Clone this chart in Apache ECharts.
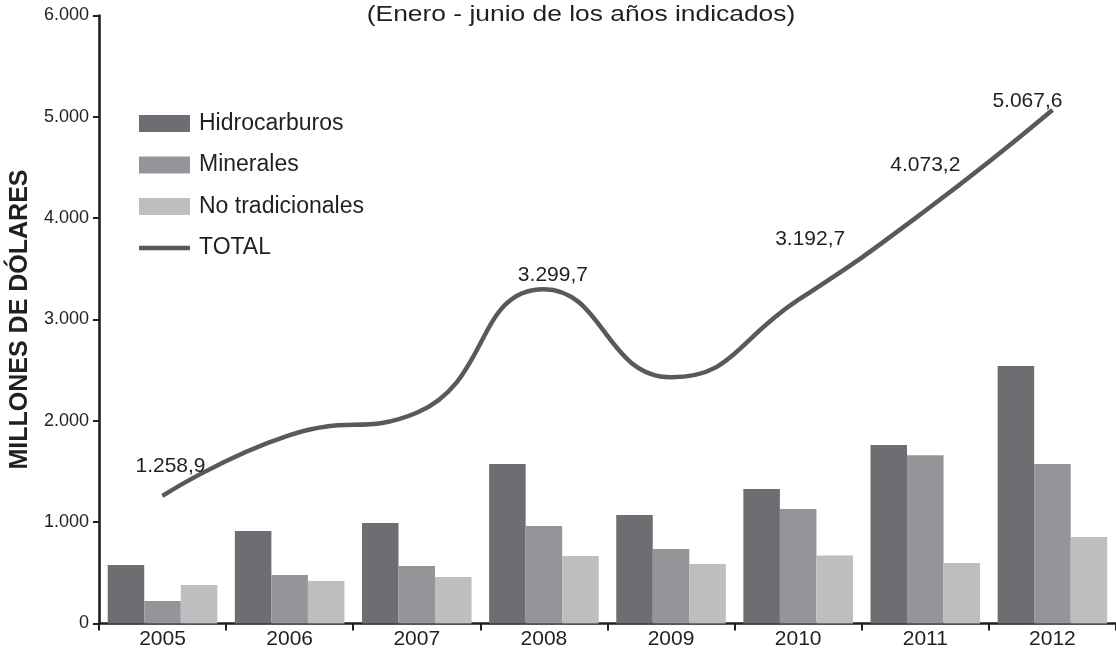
<!DOCTYPE html>
<html>
<head>
<meta charset="utf-8">
<script src="https://cdn.jsdelivr.net/npm/echarts@6/dist/echarts.min.js"></script>
<style>
  html, body { margin: 0; padding: 0; background: #ffffff; }
  #chart { width: 1116px; height: 654px; }
</style>
</head>
<body>
<div id="chart"></div>
<script>
// Exportaciones por grupo de productos, enero - junio (millones de dólares)
const categories = ['2005', '2006', '2007', '2008', '2009', '2010', '2011', '2012'];
const hidrocarburos = [577, 913, 992, 1574, 1071, 1327, 1762, 2541];
const minerales = [222, 479, 567, 962, 735, 1130, 1660, 1574];
const noTradicionales = [380, 419, 459, 666, 587, 672, 597, 854];
const total = [1258.9, 1860, 2080, 3299.7, 2430, 3192.7, 4073.2, 5067.6];
// Years whose total is written next to the line
const totalLabelled = [true, false, false, true, false, true, true, true];

const yMin = 0;
const yMax = 6000;
const yStep = 1000;

const TEXT = '#231f20';
const FONT = '"Liberation Sans", Arial, Helvetica, sans-serif';
const COLORS = { hidro: '#6d6e71', min: '#939598', noTrad: '#bcbec0', total: '#58595b' };

// Where each total label sits relative to its point
const totalLabelOffsets = { 0: [8, -14], 3: [9, 2], 5: [12, -45], 6: [0, -30], 7: [-25, 7] };

// Spanish number style: 1.258,9 / 6.000
function fmt(v, decimals) {
  const parts = v.toFixed(decimals).split('.');
  const intPart = parts[0].replace(/\B(?=(\d{3})+(?!\d))/g, '.');
  return parts.length > 1 ? intPart + ',' + parts[1] : intPart;
}

const totalData = total.map((v, i) => ({
  value: v,
  label: {
    show: totalLabelled[i],
    offset: totalLabelOffsets[i] || [0, 0]
  }
}));

const chart = echarts.init(document.getElementById('chart'), null, { renderer: 'canvas' });

chart.setOption({
  animation: false,
  backgroundColor: '#ffffff',
  textStyle: { fontFamily: FONT, color: TEXT },
  graphic: [{
    type: 'text',
    x: 581,
    y: 4,
    scaleX: 1.2,
    style: {
      text: '(Enero - junio de los años indicados)',
      font: '22px ' + FONT,
      fill: TEXT,
      align: 'center',
      verticalAlign: 'top'
    }
  }],
  legend: {
    orient: 'vertical',
    left: 134,
    top: 107,
    itemWidth: 51,
    itemHeight: 17,
    itemGap: 18.5,
    textStyle: { fontSize: 23, color: TEXT, fontFamily: FONT, lineHeight: 22, padding: [0, 0, 0, 4] },
    data: [
      { name: 'Hidrocarburos', icon: 'rect' },
      { name: 'Minerales', icon: 'rect' },
      { name: 'No tradicionales', icon: 'rect' },
      { name: 'TOTAL', icon: 'path://M0,0H51V4.5H0Z', itemStyle: { color: COLORS.total, borderWidth: 0 } }
    ]
  },
  grid: { left: 95, right: 0, top: 15.5, bottom: 30.5, containLabel: false },
  xAxis: {
    type: 'category',
    data: categories,
    boundaryGap: true,
    axisLine: { show: true, lineStyle: { color: TEXT, width: 2.6 } },
    axisTick: { show: true, alignWithLabel: false, length: 7, lineStyle: { color: TEXT, width: 2 } },
    axisLabel: { fontSize: 21, color: TEXT, fontFamily: FONT, margin: 5 },
    splitLine: { show: false }
  },
  yAxis: {
    type: 'value',
    min: yMin,
    max: yMax,
    interval: yStep,
    name: 'MILLONES DE DÓLARES',
    nameLocation: 'middle',
    nameRotate: 90,
    nameGap: 58,
    nameTextStyle: { fontSize: 25, fontWeight: 'bold', color: TEXT, fontFamily: FONT },
    axisLine: { show: true, lineStyle: { color: TEXT, width: 2.6 } },
    axisTick: { show: true, length: 6, lineStyle: { color: TEXT, width: 2 } },
    axisLabel: { fontSize: 18, color: TEXT, fontFamily: FONT, margin: 10, formatter: v => fmt(v, 0) },
    splitLine: { show: false }
  },
  series: [
    {
      name: 'Hidrocarburos',
      type: 'bar',
      data: hidrocarburos,
      itemStyle: { color: COLORS.hidro },
      barGap: '0%',
      barCategoryGap: '13.8%'
    },
    {
      name: 'Minerales',
      type: 'bar',
      data: minerales,
      itemStyle: { color: COLORS.min },
      barGap: '0%',
      barCategoryGap: '13.8%'
    },
    {
      name: 'No tradicionales',
      type: 'bar',
      data: noTradicionales,
      itemStyle: { color: COLORS.noTrad },
      barGap: '0%',
      barCategoryGap: '13.8%'
    },
    {
      name: 'TOTAL',
      type: 'line',
      data: totalData,
      smooth: true,
      z: 5,
      symbol: 'circle',
      symbolSize: 1,
      showSymbol: true,
      itemStyle: { color: COLORS.total },
      lineStyle: { color: COLORS.total, width: 4.5, cap: 'butt' },
      label: {
        position: 'top',
        distance: 5,
        fontSize: 21,
        color: TEXT,
        fontFamily: FONT,
        formatter: p => fmt(p.value, 1)
      }
    }
  ]
});
</script>
</body>
</html>
